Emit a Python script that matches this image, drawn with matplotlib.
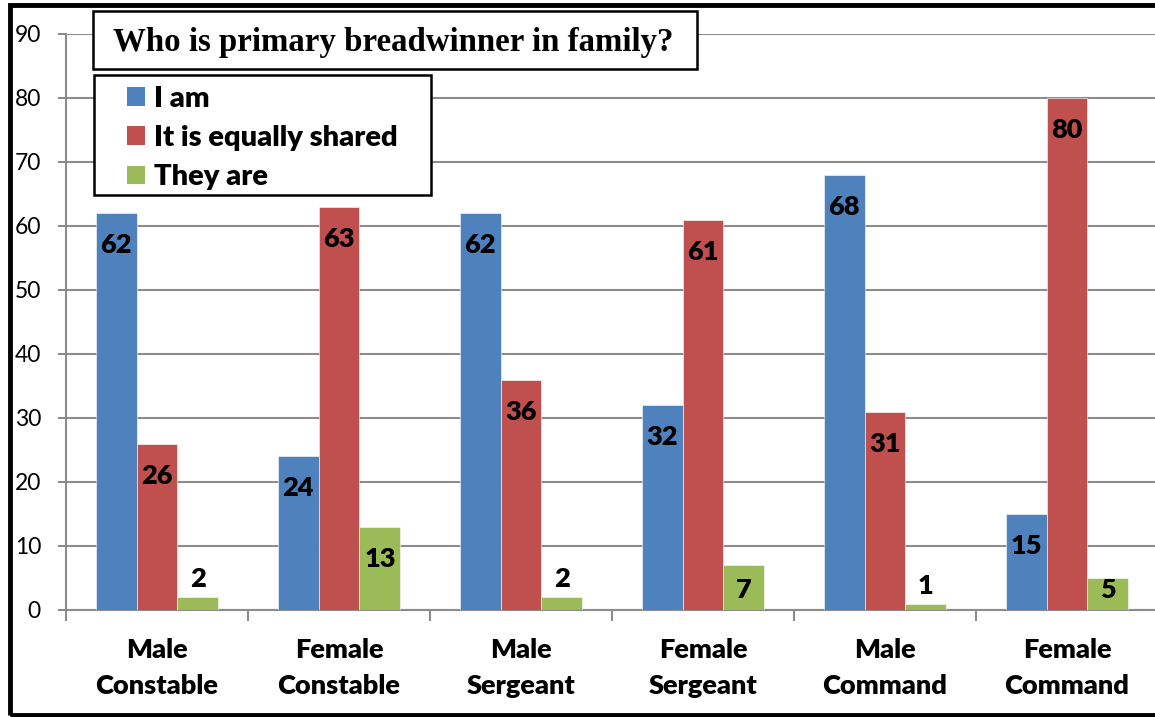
import matplotlib
matplotlib.use("Agg")
import matplotlib.pyplot as plt
from matplotlib.patches import Rectangle, Patch
import numpy as np

categories = ["Male\nConstable", "Female\nConstable", "Male\nSergeant",
              "Female\nSergeant", "Male\nCommand", "Female\nCommand"]
series_names = ["I am", "It is equally shared", "They are"]
i_am = [62, 24, 62, 32, 68, 15]
equally_shared = [26, 63, 36, 61, 31, 80]
they_are = [2, 13, 2, 7, 1, 5]
colors = ["#4F81BD", "#C0504D", "#9BBB59"]
title = "Who is primary breadwinner in family?"
y_ticks = list(range(0, 100, 10))

W, H = 1155, 717
fig = plt.figure(figsize=(W / 100, H / 100), dpi=100)
ax = fig.add_axes([66 / W, 1 - 610 / H, (1158 - 66) / W, (610 - 34) / H])

font = "Lato"
series = [i_am, equally_shared, they_are]
n = len(categories)
x = np.arange(n)
bw = 0.225
for k, (vals, col) in enumerate(zip(series, colors)):
    pos = x + (k - 1) * bw
    ax.bar(pos, vals, width=bw, color=col, edgecolor="white", linewidth=0.4, zorder=3)
    for p, v in zip(pos, vals):
        if v >= 8:
            ly = v - 5.0
        elif v >= 4:
            ly = 3.2
        else:
            ly = v + 2.8
        ax.text(p, ly, str(v), ha="center", va="center", fontsize=19.5,
                fontweight="heavy", family=font, color="black", zorder=4)

ax.set_xlim(-0.5, n - 0.5)
ax.set_ylim(0, 90)
ax.set_yticks(y_ticks)
ax.set_yticklabels([str(t) for t in y_ticks], family=font, fontsize=16.5)
ax.yaxis.grid(True, color="#8c8c8c", linewidth=1.5, zorder=0)
ax.set_axisbelow(True)
ax.tick_params(axis="y", length=6, width=1.5, color="#8c8c8c", pad=12)

ax.set_xticks(x)
ax.set_xticklabels(categories, family=font, fontsize=19.5, fontweight="heavy",
                   linespacing=1.6)
ax.tick_params(axis="x", which="major", length=0, pad=20)
ax.set_xticks(np.arange(-0.5, n, 1.0), minor=True)
ax.tick_params(axis="x", which="minor", length=8, width=1.5, color="#8c8c8c")

for s in ["top", "right"]:
    ax.spines[s].set_visible(False)
for s in ["left", "bottom"]:
    ax.spines[s].set_color("#8c8c8c")
    ax.spines[s].set_linewidth(1.5)

# outer border
fig.patches.append(Rectangle((9.5 / W, 1 - 714.5 / H), 1.2, (714.5 - 4.5) / H,
                             transform=fig.transFigure, fill=False,
                             edgecolor="black", linewidth=3.5, zorder=10))

# title box
fig.patches.append(Rectangle((93 / W, 1 - 69 / H), (697 - 93) / W, (69 - 11) / H,
                             transform=fig.transFigure, facecolor="white",
                             edgecolor="black", linewidth=1.8, zorder=5))
fig.text(393 / W, 1 - 42 / H, title, ha="center", va="center",
         family="Liberation Serif", fontweight="bold", fontsize=23.7, zorder=6)

# legend box
fig.patches.append(Rectangle((94 / W, 1 - 195 / H), (431 - 94) / W, (195 - 75) / H,
                             transform=fig.transFigure, facecolor="white",
                             edgecolor="black", linewidth=1.8, zorder=5))
handles = [Patch(facecolor=c, edgecolor="none") for c in colors]
leg = fig.legend(handles, series_names, loc="upper left",
                 bbox_to_anchor=(127 / W, 1 - 86 / H), bbox_transform=fig.transFigure,
                 frameon=False, prop={"family": font, "weight": "heavy", "size": 21},
                 handlelength=0.62, handleheight=0.62, handletextpad=0.3,
                 labelspacing=0.45, borderaxespad=0, borderpad=0)
leg.set_zorder(7)

fig.savefig("out.png", dpi=100)
